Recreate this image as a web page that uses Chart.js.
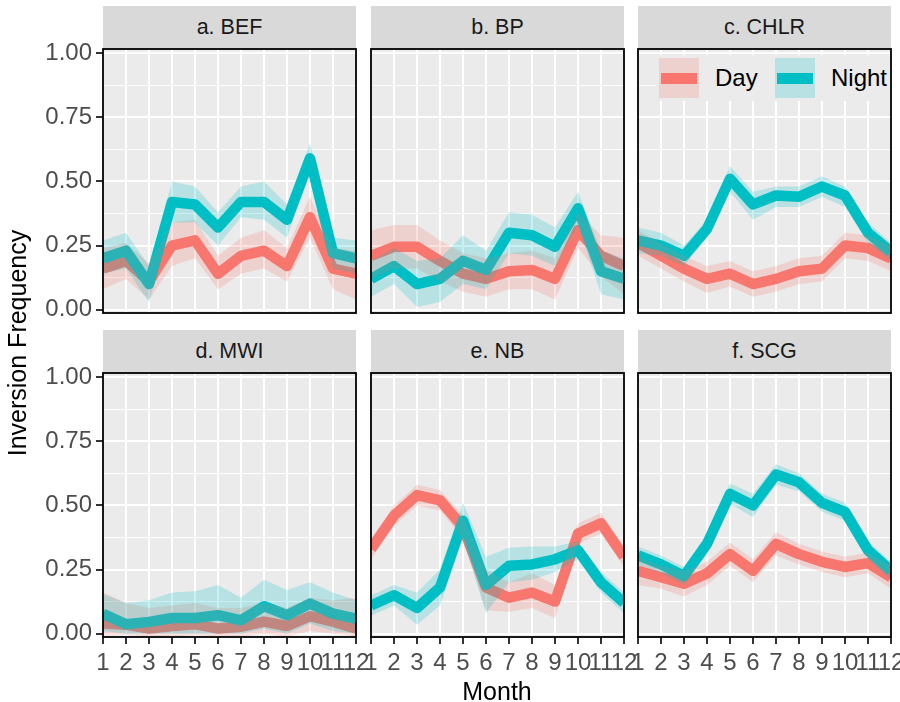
<!DOCTYPE html>
<html>
<head>
<meta charset="utf-8">
<script src="https://cdn.jsdelivr.net/npm/chart.js@4.4.1/dist/chart.umd.min.js"></script>
<style>
  html, body { margin: 0; padding: 0; background: #ffffff; }
  #root { position: relative; width: 900px; height: 702px; overflow: hidden; background: #ffffff;
          font-family: "Liberation Sans", Arial, Helvetica, sans-serif; }
  .strip { position: absolute; background: #D9D9D9; color: #1A1A1A; font-size: 21.5px;
           display: flex; align-items: center; justify-content: center; }
  .wrap { position: absolute; }
  .title { position: absolute; color: #000; font-size: 25px; line-height: 30px; height: 30px;
           text-align: center; white-space: nowrap; }
  #legend { position: absolute; background: #EBEBEB; }
  .key { position: absolute; width: 40px; height: 40px; background: #EBEBEB; }
  .key .rib { position: absolute; left: 0; top: 0; width: 40px; height: 40px; }
  .key .ln { position: absolute; left: 2px; top: 14.5px; width: 36px; height: 11px; }
  .ltxt { position: absolute; font-size: 24px; color: #000; height: 40px; line-height: 40px; }
</style>
</head>
<body>
<div id="root"></div>
<script>
// ---------------- data ----------------
const months = [1, 2, 3, 4, 5, 6, 7, 8, 9, 10, 11, 12];
const xTickLabels = ['1', '2', '3', '4', '5', '6', '7', '8', '9', '10', '11', '12'];
const yBreaks = [0, 0.25, 0.5, 0.75, 1];
const yTickLabels = ['0.00', '0.25', '0.50', '0.75', '1.00'];
const yMinorBreaks = [0.125, 0.375, 0.625, 0.875];
const seriesNames = ['Day', 'Night'];
const panelTitles = ['a. BEF', 'b. BP', 'c. CHLR', 'd. MWI', 'e. NB', 'f. SCG'];

// a. BEF
const befDay     = [0.16, 0.19, 0.11, 0.25, 0.27, 0.14, 0.21, 0.23, 0.17, 0.36, 0.16, 0.14];
const befDayLo   = [0.08, 0.12, 0.04, 0.17, 0.20, 0.08, 0.14, 0.16, 0.11, 0.28, 0.08, 0.04];
const befDayHi   = [0.24, 0.26, 0.18, 0.34, 0.35, 0.21, 0.28, 0.31, 0.24, 0.44, 0.24, 0.23];
const befNight   = [0.20, 0.23, 0.10, 0.42, 0.41, 0.32, 0.42, 0.42, 0.35, 0.59, 0.22, 0.20];
const befNightLo = [0.14, 0.16, 0.03, 0.34, 0.34, 0.25, 0.36, 0.35, 0.28, 0.54, 0.16, 0.14];
const befNightHi = [0.27, 0.30, 0.17, 0.50, 0.48, 0.38, 0.48, 0.50, 0.41, 0.65, 0.28, 0.27];

// b. BP
const bpDay     = [0.21, 0.245, 0.245, 0.19, 0.14, 0.12, 0.15, 0.155, 0.12, 0.31, 0.21, 0.17];
const bpDayLo   = [0.12, 0.16, 0.16, 0.11, 0.07, 0.05, 0.08, 0.08, 0.04, 0.24, 0.13, 0.06];
const bpDayHi   = [0.31, 0.33, 0.33, 0.27, 0.22, 0.20, 0.22, 0.23, 0.20, 0.38, 0.29, 0.28];
const bpNight   = [0.12, 0.17, 0.10, 0.12, 0.19, 0.155, 0.30, 0.29, 0.245, 0.395, 0.15, 0.12];
const bpNightLo = [0.05, 0.10, 0.01, 0.03, 0.10, 0.08, 0.22, 0.21, 0.17, 0.33, 0.06, 0.04];
const bpNightHi = [0.19, 0.24, 0.19, 0.20, 0.29, 0.23, 0.38, 0.37, 0.32, 0.46, 0.23, 0.20];

// c. CHLR
const chlrDay     = [0.26, 0.21, 0.16, 0.12, 0.14, 0.10, 0.12, 0.15, 0.16, 0.25, 0.24, 0.20];
const chlrDayLo   = [0.21, 0.16, 0.11, 0.065, 0.09, 0.05, 0.07, 0.10, 0.11, 0.20, 0.19, 0.15];
const chlrDayHi   = [0.31, 0.26, 0.21, 0.17, 0.19, 0.15, 0.17, 0.20, 0.21, 0.30, 0.29, 0.25];
const chlrNight   = [0.27, 0.25, 0.21, 0.315, 0.51, 0.41, 0.445, 0.44, 0.48, 0.445, 0.30, 0.225];
const chlrNightLo = [0.22, 0.21, 0.17, 0.28, 0.46, 0.35, 0.40, 0.40, 0.44, 0.40, 0.26, 0.19];
const chlrNightHi = [0.32, 0.30, 0.25, 0.35, 0.56, 0.46, 0.48, 0.48, 0.52, 0.48, 0.34, 0.26];

// d. MWI
const mwiDay     = [0.04, 0.035, 0.02, 0.03, 0.037, 0.02, 0.027, 0.047, 0.03, 0.068, 0.047, 0.02];
const mwiDayLo   = [-0.005, -0.005, -0.01, -0.01, -0.005, -0.01, -0.01, 0.0, -0.01, 0.01, 0.0, -0.01];
const mwiDayHi   = [0.16, 0.12, 0.10, 0.11, 0.12, 0.10, 0.10, 0.12, 0.10, 0.14, 0.13, 0.14];
const mwiNight   = [0.078, 0.037, 0.046, 0.061, 0.061, 0.072, 0.052, 0.107, 0.072, 0.117, 0.078, 0.059];
const mwiNightLo = [0.01, 0.0, 0.0, 0.0, 0.0, 0.0, 0.0, 0.02, 0.0, 0.04, 0.01, 0.0];
const mwiNightHi = [0.155, 0.12, 0.13, 0.16, 0.165, 0.19, 0.14, 0.21, 0.17, 0.20, 0.16, 0.13];

// e. NB
const nbDay     = [0.33, 0.46, 0.54, 0.52, 0.415, 0.18, 0.14, 0.16, 0.125, 0.39, 0.43, 0.30];
const nbDayLo   = [0.29, 0.42, 0.50, 0.48, 0.37, 0.09, 0.085, 0.10, 0.06, 0.35, 0.39, 0.26];
const nbDayHi   = [0.37, 0.50, 0.58, 0.56, 0.46, 0.25, 0.20, 0.235, 0.19, 0.43, 0.47, 0.34];
const nbNight   = [0.11, 0.15, 0.10, 0.18, 0.44, 0.19, 0.265, 0.27, 0.29, 0.325, 0.20, 0.12];
const nbNightLo = [0.07, 0.11, 0.035, 0.11, 0.37, 0.08, 0.20, 0.21, 0.24, 0.29, 0.16, 0.08];
const nbNightHi = [0.15, 0.19, 0.16, 0.25, 0.51, 0.30, 0.335, 0.34, 0.34, 0.36, 0.24, 0.16];

// f. SCG
const scgDay     = [0.245, 0.22, 0.195, 0.235, 0.31, 0.245, 0.35, 0.31, 0.28, 0.26, 0.275, 0.22];
const scgDayLo   = [0.19, 0.175, 0.145, 0.19, 0.265, 0.20, 0.305, 0.27, 0.24, 0.22, 0.235, 0.175];
const scgDayHi   = [0.30, 0.265, 0.245, 0.28, 0.355, 0.29, 0.395, 0.35, 0.32, 0.30, 0.315, 0.265];
const scgNight   = [0.305, 0.27, 0.225, 0.35, 0.545, 0.50, 0.62, 0.59, 0.51, 0.475, 0.325, 0.245];
const scgNightLo = [0.27, 0.235, 0.19, 0.31, 0.505, 0.455, 0.58, 0.555, 0.475, 0.44, 0.29, 0.21];
const scgNightHi = [0.34, 0.305, 0.26, 0.39, 0.585, 0.545, 0.66, 0.625, 0.545, 0.51, 0.36, 0.28];

const panels = [
  { day: befDay,  dayLo: befDayLo,  dayHi: befDayHi,  night: befNight,  nightLo: befNightLo,  nightHi: befNightHi },
  { day: bpDay,   dayLo: bpDayLo,   dayHi: bpDayHi,   night: bpNight,   nightLo: bpNightLo,   nightHi: bpNightHi },
  { day: chlrDay, dayLo: chlrDayLo, dayHi: chlrDayHi, night: chlrNight, nightLo: chlrNightLo, nightHi: chlrNightHi },
  { day: mwiDay,  dayLo: mwiDayLo,  dayHi: mwiDayHi,  night: mwiNight,  nightLo: mwiNightLo,  nightHi: mwiNightHi },
  { day: nbDay,   dayLo: nbDayLo,   dayHi: nbDayHi,   night: nbNight,   nightLo: nbNightLo,   nightHi: nbNightHi },
  { day: scgDay,  dayLo: scgDayLo,  dayHi: scgDayHi,  night: scgNight,  nightLo: scgNightLo,  nightHi: scgNightHi }
];

// ---------------- layout & style ----------------
const FONT = '"Liberation Sans", Arial, Helvetica, sans-serif';
const DAY_COL = '#F8766D', NIGHT_COL = '#00BFC4';
const DAY_FILL = 'rgba(248,118,109,0.22)', NIGHT_FILL = 'rgba(0,191,196,0.22)';
const colLeft = [103, 371, 638];
const rowTop = [49, 372.5];
const stripTop = [6, 329.5];
const PW = 253, PH = 264, M = 16, YAW = 103, XAH = 42;
const Y_MIN = -0.013, Y_MAX = 1.016;
const LINE_W = 10.5;

const root = document.getElementById('root');

const framePlugin = {
  id: 'panelFrame',
  beforeDraw(chart) {
    const a = chart.chartArea, ctx = chart.ctx;
    ctx.save();
    ctx.fillStyle = '#EBEBEB';
    ctx.fillRect(a.left, a.top, a.right - a.left, a.bottom - a.top);
    ctx.restore();
  },
  afterDraw(chart) {
    const a = chart.chartArea, ctx = chart.ctx;
    ctx.save();
    ctx.strokeStyle = '#000000';
    ctx.lineWidth = 1.8;
    ctx.strokeRect(a.left, a.top, a.right - a.left, a.bottom - a.top);
    ctx.restore();
  }
};

function pts(arr) { return months.map((m, i) => ({ x: m, y: arr[i] })); }
const isMajor = v => yBreaks.some(b => Math.abs(b - v) < 1e-9);
function zeroPad(sc) { sc.paddingLeft = 0; sc.paddingRight = 0; sc.paddingTop = 0; sc.paddingBottom = 0; }

panels.forEach((p, idx) => {
  const row = Math.floor(idx / 3), col = idx % 3;
  const firstCol = col === 0, lastRow = row === 1;

  // strip
  const s = document.createElement('div');
  s.className = 'strip';
  s.style.left = colLeft[col] + 'px';
  s.style.top = stripTop[row] + 'px';
  s.style.width = PW + 'px';
  s.style.height = (rowTop[row] - stripTop[row]) + 'px';
  s.textContent = panelTitles[idx];
  root.appendChild(s);

  // chart canvas
  const padL = firstCol ? 0 : M;
  const padB = lastRow ? 0 : M;
  const left = firstCol ? 0 : colLeft[col] - M;
  const top = rowTop[row] - M;
  const w = (firstCol ? YAW : M) + PW + M;
  const h = M + PH + (lastRow ? XAH : M);
  const wrap = document.createElement('div');
  wrap.className = 'wrap';
  wrap.style.left = left + 'px';
  wrap.style.top = top + 'px';
  wrap.style.width = w + 'px';
  wrap.style.height = h + 'px';
  const cv = document.createElement('canvas');
  cv.width = w; cv.height = h;
  cv.style.width = w + 'px'; cv.style.height = h + 'px';
  wrap.appendChild(cv);
  root.appendChild(wrap);

  new Chart(cv.getContext('2d'), {
    type: 'line',
    data: {
      datasets: [
        { label: seriesNames[0], data: pts(p.day), borderColor: DAY_COL, borderWidth: LINE_W,
          fill: false, order: 4 },
        { label: seriesNames[1], data: pts(p.night), borderColor: NIGHT_COL, borderWidth: LINE_W,
          fill: false, order: 3 },
        { label: seriesNames[0] + ' upper', data: pts(p.dayHi), borderColor: 'rgba(0,0,0,0)', borderWidth: 0,
          backgroundColor: DAY_FILL, fill: '+1', order: 2 },
        { label: seriesNames[0] + ' lower', data: pts(p.dayLo), borderColor: 'rgba(0,0,0,0)', borderWidth: 0,
          fill: false, order: 2 },
        { label: seriesNames[1] + ' upper', data: pts(p.nightHi), borderColor: 'rgba(0,0,0,0)', borderWidth: 0,
          backgroundColor: NIGHT_FILL, fill: '+1', order: 1 },
        { label: seriesNames[1] + ' lower', data: pts(p.nightLo), borderColor: 'rgba(0,0,0,0)', borderWidth: 0,
          fill: false, order: 1 }
      ]
    },
    options: {
      responsive: false,
      animation: false,
      devicePixelRatio: 1,
      events: [],
      datasets: { line: { pointRadius: 0, tension: 0, clip: 0, borderJoinStyle: 'round', borderCapStyle: 'butt' } },
      layout: { autoPadding: false, padding: { left: padL, right: M, top: M, bottom: padB } },
      plugins: { legend: { display: false }, tooltip: { enabled: false } },
      scales: {
        x: {
          type: 'linear', min: months[0], max: months[months.length - 1],
          afterBuildTicks: sc => { sc.ticks = months.map(v => ({ value: v })); },
          afterFit: sc => { sc.height = lastRow ? XAH : 0; zeroPad(sc); },
          border: { display: false },
          grid: { color: '#FFFFFF', lineWidth: 2, drawTicks: lastRow, tickLength: 7,
                  tickColor: '#333333', tickWidth: 2 },
          ticks: { display: lastRow, autoSkip: false, maxRotation: 0, minRotation: 0, padding: 5,
                   color: '#4D4D4D', font: { family: FONT, size: 24 },
                   callback: (v, i) => xTickLabels[i] }
        },
        y: {
          type: 'linear', min: Y_MIN, max: Y_MAX,
          afterBuildTicks: sc => { sc.ticks = yBreaks.concat(yMinorBreaks).sort((a, b) => a - b).map(v => ({ value: v })); },
          afterFit: sc => { sc.width = firstCol ? YAW : 0; zeroPad(sc); },
          border: { display: false },
          grid: { color: '#FFFFFF',
                  lineWidth: c => (c.tick && isMajor(c.tick.value)) ? 2 : 1,
                  drawTicks: firstCol, tickLength: 7, tickWidth: 2,
                  tickColor: c => (c.tick && isMajor(c.tick.value)) ? '#333333' : 'rgba(0,0,0,0)' },
          ticks: { display: firstCol, padding: 4, color: '#4D4D4D', font: { family: FONT, size: 24 },
                   callback: v => { const k = yBreaks.findIndex(b => Math.abs(b - v) < 1e-9); return k >= 0 ? yTickLabels[k] : ''; } }
        }
      }
    },
    plugins: [framePlugin]
  });
});

// axis titles
const xt = document.createElement('div');
xt.className = 'title';
xt.style.left = (colLeft[0] + (colLeft[2] + PW - colLeft[0]) / 2 - 150) + 'px';
xt.style.width = '300px';
xt.style.top = '676px';
xt.textContent = 'Month';
root.appendChild(xt);

const yt = document.createElement('div');
yt.className = 'title';
yt.style.width = '320px';
yt.style.left = (16.5 - 160) + 'px';
yt.style.top = (343 - 15) + 'px';
yt.style.transform = 'rotate(-90deg)';
yt.textContent = 'Inversion Frequency';
root.appendChild(yt);

// legend (inside panel c)
const lg = document.createElement('div');
lg.id = 'legend';
lg.style.left = '656px';
lg.style.top = '55px';
lg.style.width = '234px';
lg.style.height = '46px';
function legendItem(name, col, fillCol, keyLeft, textLeft) {
  const k = document.createElement('div');
  k.className = 'key';
  k.style.left = keyLeft + 'px';
  k.style.top = '3px';
  const r = document.createElement('div'); r.className = 'rib'; r.style.background = fillCol;
  const l = document.createElement('div'); l.className = 'ln'; l.style.background = col;
  k.appendChild(r); k.appendChild(l);
  lg.appendChild(k);
  const t = document.createElement('div');
  t.className = 'ltxt';
  t.style.left = textLeft + 'px';
  t.style.top = '3px';
  t.textContent = name;
  lg.appendChild(t);
}
legendItem(seriesNames[0], DAY_COL, DAY_FILL, 3, 59);
legendItem(seriesNames[1], NIGHT_COL, NIGHT_FILL, 119, 175);
root.appendChild(lg);
</script>
</body>
</html>
